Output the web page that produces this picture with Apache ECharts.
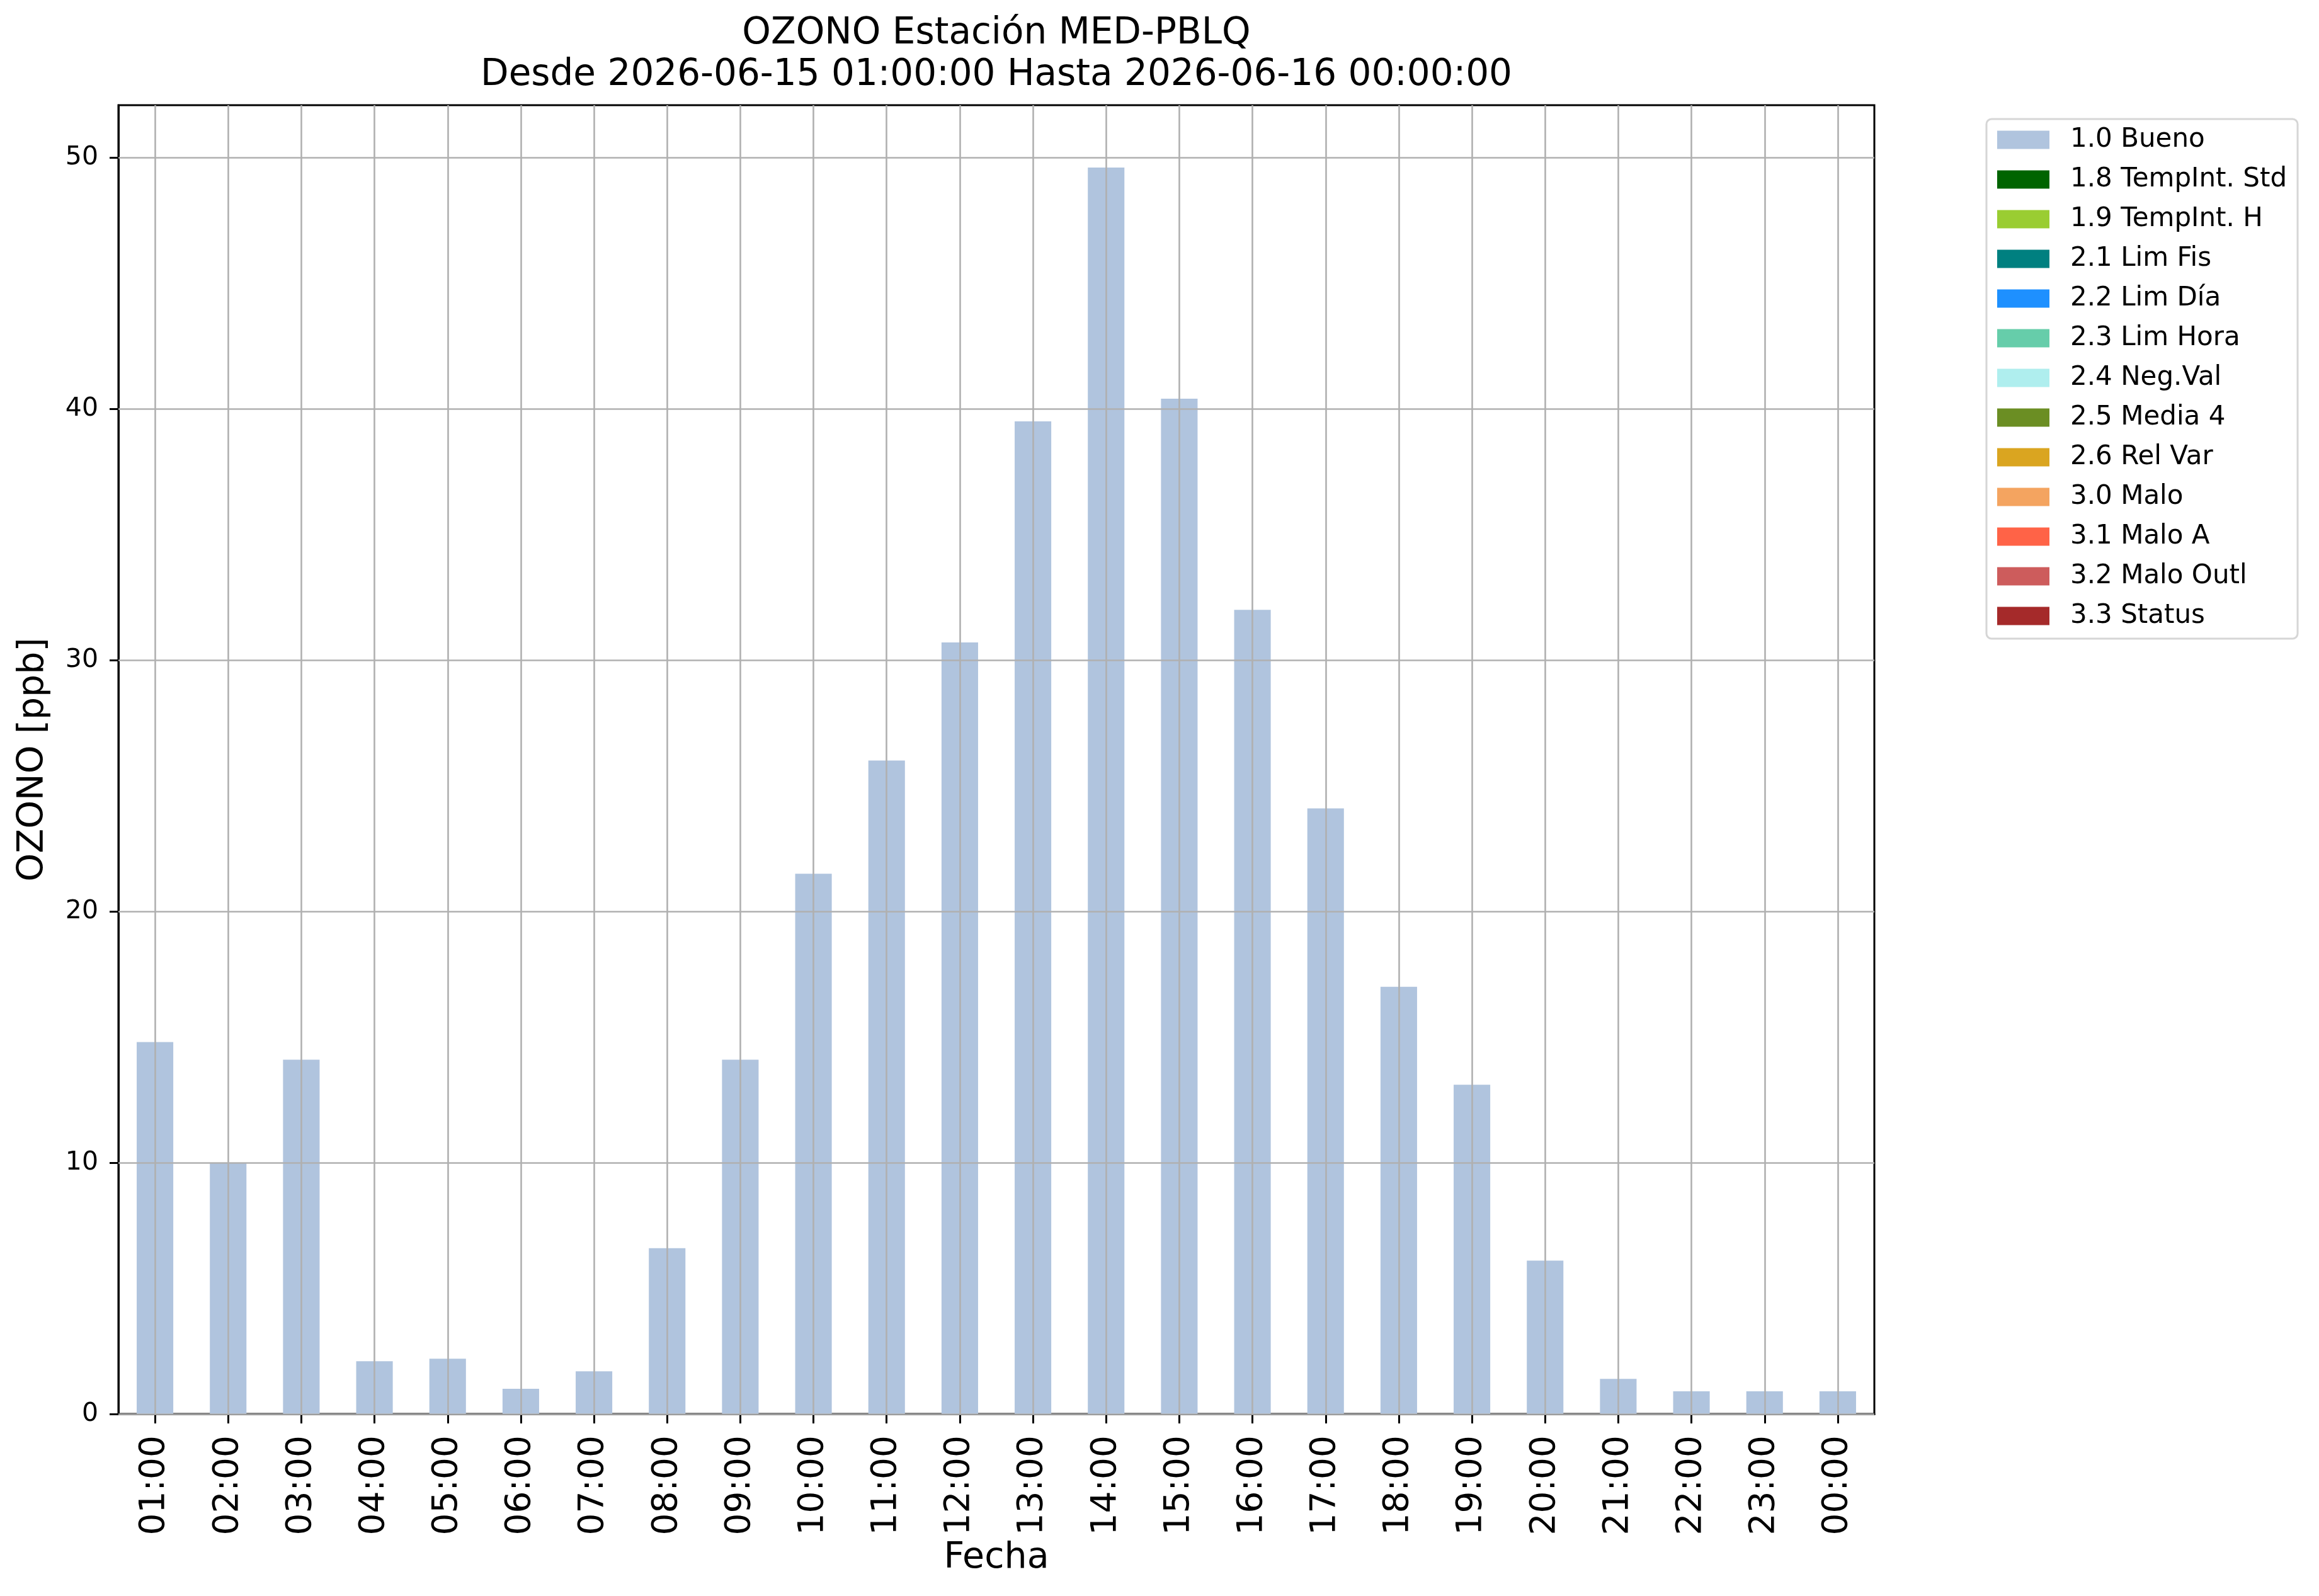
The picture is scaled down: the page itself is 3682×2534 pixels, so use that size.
<!DOCTYPE html>
<html>
<head>
<meta charset="utf-8">
<script src="https://cdn.jsdelivr.net/npm/echarts@6/dist/echarts.min.js"></script>
<style>
html,body{margin:0;padding:0;background:#fff;}
#chart{width:3682px;height:2534px;}
</style>
</head>
<body>
<div id="chart"></div>
<script>
var categories = ['01:00','02:00','03:00','04:00','05:00','06:00','07:00','08:00','09:00','10:00','11:00','12:00','13:00','14:00','15:00','16:00','17:00','18:00','19:00','20:00','21:00','22:00','23:00','00:00'];
var buenoValues = [14.8,10.0,14.1,2.1,2.2,1.0,1.7,6.6,14.1,21.5,26.0,30.7,39.5,49.6,40.4,32.0,24.1,17.0,13.1,6.1,1.4,0.9,0.9,0.9];
var flagNames = ['1.0 Bueno','1.8 TempInt. Std','1.9 TempInt. H','2.1 Lim Fis','2.2 Lim Día','2.3 Lim Hora','2.4 Neg.Val','2.5 Media 4','2.6 Rel Var','3.0 Malo','3.1 Malo A','3.2 Malo Outl','3.3 Status'];
var flagColors = ['#b0c4de','#006400','#9acd32','#008080','#1e90ff','#66cdaa','#afeeee','#6b8e23','#daa520','#f4a460','#ff6347','#cd5c5c','#a52a2a'];
var yTicks = [0,10,20,30,40,50];
var yMax = 52.08;

var FONT = 'DejaVu Sans';
var chart = echarts.init(document.getElementById('chart'), null, {renderer:'canvas'});

var series = flagNames.map(function(name, i){
  return {
    name: name,
    type: 'bar',
    stack: 'flags',
    barWidth: '50%',
    itemStyle: {color: flagColors[i]},
    data: i === 0 ? buenoValues : [],
    silent: true
  };
});

var gridLineStyle = {color:'#b0b0b0', width:2.6, type:'solid'};
series.push({
  name: '_grid',
  type: 'line',
  data: [],
  z: 5,
  silent: true,
  symbol: 'none',
  markLine: {
    silent: true,
    symbol: ['none','none'],
    label: {show:false},
    lineStyle: gridLineStyle,
    animation: false,
    data: categories.map(function(c){ return {xAxis: c}; })
      .concat(yTicks.map(function(v){ return {yAxis: v}; }))
  }
});

chart.setOption({
  animation: false,
  backgroundColor: '#ffffff',
  title: {
    text: 'OZONO Estación MED-PBLQ\nDesde 2026-06-15 01:00:00 Hasta 2026-06-16 00:00:00',
    left: 1582,
    top: 21,
    textAlign: 'center',
    padding: 0,
    textStyle: {fontFamily: FONT, fontSize: 58, fontWeight: 'normal', color: '#000', lineHeight: 66}
  },
  legend: {
    orient: 'vertical',
    left: 3154,
    top: 189,
    data: flagNames,
    icon: 'rect',
    itemWidth: 83,
    itemHeight: 29,
    itemGap: 21,
    padding: [12, 17, 15, 17],
    borderColor: '#d6d6d6',
    borderWidth: 3,
    borderRadius: 8,
    backgroundColor: '#ffffff',
    selectedMode: false,
    formatter: function(name){ return '{g|}' + name; },
    textStyle: {
      fontFamily: FONT, fontSize: 42, color: '#000', lineHeight: 42,
      rich: { g: { width: 28, height: 42, lineHeight: 42 } }
    }
  },
  grid: {
    left: 188, right: 706, top: 167, bottom: 289,
    show: true, borderColor: '#000', borderWidth: 3, backgroundColor: '#fff',
    containLabel: false
  },
  xAxis: {
    type: 'category',
    data: categories,
    name: 'Fecha',
    nameLocation: 'middle',
    nameGap: 225,
    nameTextStyle: {fontFamily: FONT, fontSize: 57, color: '#000', verticalAlign: 'middle'},
    axisLine: {show: true, lineStyle: {color: '#000', width: 3}},
    axisTick: {show: true, alignWithLabel: true, interval: 0, length: 15, lineStyle: {color: '#000', width: 3}},
    axisLabel: {interval: 0, rotate: 90, margin: 34, fontFamily: FONT, fontSize: 55, color: '#000'},
    splitLine: {show: false}
  },
  yAxis: {
    type: 'value',
    min: 0,
    max: yMax,
    interval: 10,
    name: 'OZONO [ppb]',
    nameLocation: 'middle',
    nameGap: 135,
    nameTextStyle: {fontFamily: FONT, fontSize: 57, color: '#000', verticalAlign: 'middle'},
    axisLine: {show: true, lineStyle: {color: '#000', width: 3}},
    axisTick: {show: true, length: 14, lineStyle: {color: '#000', width: 3}},
    axisLabel: {margin: 32, fontFamily: FONT, fontSize: 41, color: '#000', showMaxLabel: false},
    splitLine: {show: false}
  },
  series: series
});
</script>
</body>
</html>
